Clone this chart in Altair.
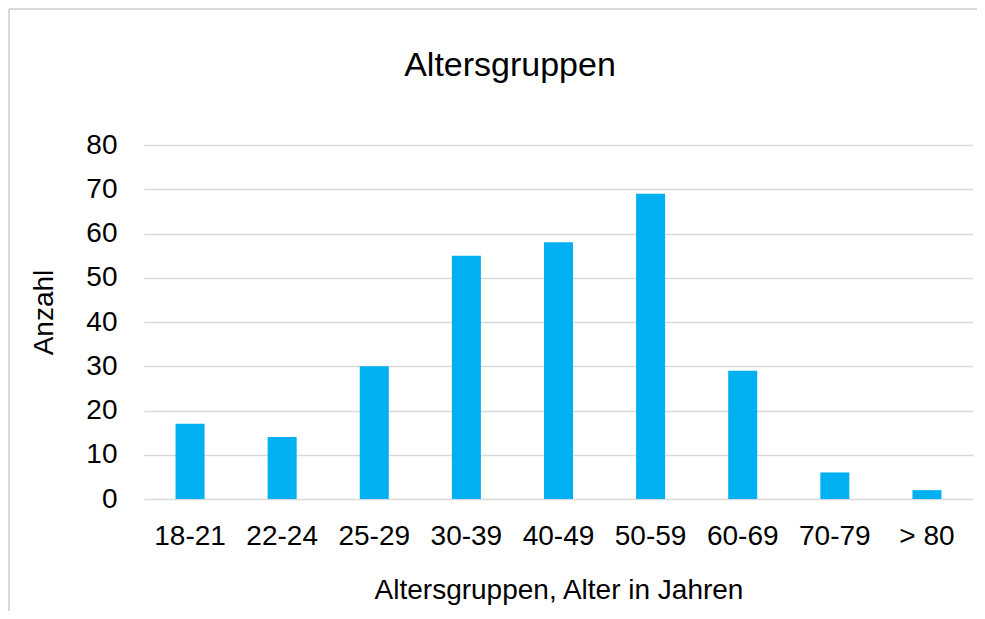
import altair as alt
import pandas as pd

categories = ["18-21", "22-24", "25-29", "30-39", "40-49", "50-59", "60-69", "70-79", "> 80"]
counts = [17, 14, 30, 55, 58, 69, 29, 6, 2]
y_ticks = [0, 10, 20, 30, 40, 50, 60, 70, 80]

df = pd.DataFrame({"Altersgruppe": categories, "Anzahl": counts})

FONT = "Liberation Sans"
BAR = "#00B0F0"
GRID = "#d9d9d9"

bars = alt.Chart(df).mark_bar(color=BAR).encode(
    x=alt.X(
        "Altersgruppe:N",
        sort=categories,
        scale=alt.Scale(paddingInner=0.685, paddingOuter=0.3425),
        axis=alt.Axis(
            title="Altersgruppen, Alter in Jahren",
            labelAngle=0,
            ticks=False,
            tickSize=0,
            domain=False,
            labelFont=FONT,
            labelFontSize=28,
            labelColor="#000000",
            labelBaseline="alphabetic",
            labelPadding=45,
            titleFont=FONT,
            titleFontSize=28,
            titleFontWeight="normal",
            titleColor="#000000",
            titleBaseline="alphabetic",
            titleY=99,
        ),
    ),
    y=alt.Y(
        "Anzahl:Q",
        scale=alt.Scale(domain=[0, 80], nice=False),
        axis=alt.Axis(
            title="Anzahl",
            values=y_ticks,
            ticks=False,
            tickSize=0,
            domain=False,
            grid=True,
            gridColor=GRID,
            gridWidth=1.5,
            labelFont=FONT,
            labelFontSize=28,
            labelColor="#000000",
            labelPadding=27,
            titleFont=FONT,
            titleFontSize=28,
            titleFontWeight="normal",
            titleColor="#000000",
            titleAngle=270,
            titleAlign="center",
            titleBaseline="alphabetic",
            titleX=-92,
            titleY=167,
        ),
    ),
)

border_src = alt.Chart(pd.DataFrame({"k": [0]}))
top_border = border_src.mark_rule(color=GRID, strokeWidth=2).encode(
    x=alt.value(-135), x2=alt.value(840), y=alt.value(-136)
)
left_border = border_src.mark_rule(color=GRID, strokeWidth=2).encode(
    x=alt.value(-135), y=alt.value(-136), y2=alt.value(480)
)

title_df = pd.DataFrame({"t": ["Altersgruppen"]})
title = alt.Chart(title_df).mark_text(
    font=FONT, fontSize=34, color="#000000", align="center", baseline="alphabetic"
).encode(
    text="t:N",
    x=alt.value(366),
    y=alt.value(-69),
)

chart = alt.layer(top_border, left_border, bars, title).properties(
    width=829,
    height=354,
    autosize=alt.AutoSizeParams(type="none"),
    padding={"left": 136, "top": 137, "right": 4, "bottom": 112},
).configure_view(strokeWidth=0)

chart.save("out.html", embed_options={"renderer": "svg", "actions": False})
